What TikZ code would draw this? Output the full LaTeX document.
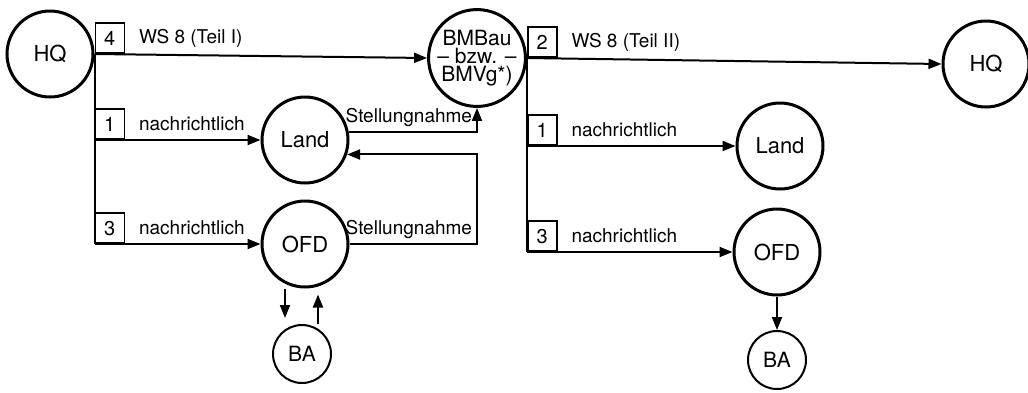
\documentclass[tikz,border=0pt]{standalone}
\usepackage{fontspec}
\setmainfont{TeX Gyre Heros}
\usepackage{tikz}
\usetikzlibrary{arrows.meta,positioning}

\begin{document}
\begin{tikzpicture}[x=0.5pt, y=-0.5pt, line width=1pt,
    >={Triangle[length=6.5pt,width=5pt]},
    stelle/.style={circle, draw, line width=1.5pt, minimum size=43pt, inner sep=0pt, font=\fontsize{11}{11}\selectfont},
    amt/.style={circle, draw, line width=1pt, minimum size=29pt, inner sep=0pt, font=\fontsize{10.5}{11}\selectfont},
    nrbox/.style={draw, line width=0.8pt, minimum width=14.5pt, minimum height=15pt, inner sep=0pt, font=\fontsize{10}{11}\selectfont},
    txt/.style={inner sep=0pt, font=\fontsize{9.5}{11}\selectfont}]
                \useasboundingbox (0,0) rectangle (1028,392);
                % Stellen
                \node[stelle] (HQl) at (50,54) {HQ};
                \node[stelle, align=center, font=\fontsize{10.5}{9}\selectfont] (BM) at (477,58) {BMBau\\-- bzw. --\\BMVg*)};
                \node[stelle] (HQr) at (986,64) {HQ};
                \node[stelle] (Landl) at (305,140) {Land};
                \node[stelle] (OFDl) at (305,244) {OFD};
                \node[amt] (BAl) at (302,354) {BA};
                \node[stelle] (Landr) at (780,146) {Land};
                \node[stelle] (OFDr) at (777,252) {OFD};
                \node[amt] (BAr) at (777,360) {BA};

                % Teil I
                \node[nrbox, anchor=south west] (n4) at (HQl.east) {4};
                \node[txt, right=6.5pt of n4] {WS 8 (Teil I)};
                \draw[->] (HQl.east) -- (BM.west);
                \node[nrbox, anchor=south west] (n1l) at (HQl.east |- Landl.west) {1};
                \node[txt, right=6.5pt of n1l] {nachrichtlich};
                \draw[->] (n1l.south west) -- (Landl.west);
                \node[nrbox, anchor=south west] (n3l) at (HQl.east |- OFDl.west) {3};
                \node[txt, right=6.5pt of n3l] {nachrichtlich};
                \draw[->] (n3l.south west) -- (OFDl.west);
                \draw (HQl.east) -- (n3l.south west);

                % Stellungnahmen
                \coordinate (ret) at (BM.south |- Landl.-19);
                \draw[->] (Landl.11) -| node[pos=0.5, txt, anchor=south east, inner sep=2pt] {Stellungnahme} (BM.south);
                \draw[->] (OFDl.east) -| node[pos=0.5, txt, anchor=south east, inner sep=2pt] {Stellungnahme} (ret) -- (Landl.-19);
                \draw[->, shorten >=3pt] ([xshift=-10pt]OFDl.south) -- ([xshift=-10pt]OFDl.south |- BAl.north);
                \draw[->, shorten >=3pt] ([xshift=8pt]BAl.north) -- ([xshift=8pt]BAl.north |- OFDl.south);

                % Teil II
                \node[nrbox, anchor=south west] (n2) at (BM.east) {2};
                \node[txt, right=6.5pt of n2] {WS 8 (Teil II)};
                \draw[->] (BM.east) -- (HQr.west);
                \node[nrbox, anchor=south west] (n1r) at (BM.east |- Landr.west) {1};
                \node[txt, right=6.5pt of n1r] {nachrichtlich};
                \draw[->] (n1r.south west) -- (Landr.west);
                \node[nrbox, anchor=south west] (n3r) at (BM.east |- OFDr.west) {3};
                \node[txt, right=6.5pt of n3r] {nachrichtlich};
                \draw[->] (n3r.south west) -- (OFDr.west);
                \draw (BM.east) -- (n3r.south west);
                \draw[->] (OFDr.south) -- (BAr.north);
            \end{tikzpicture}
\end{document}
